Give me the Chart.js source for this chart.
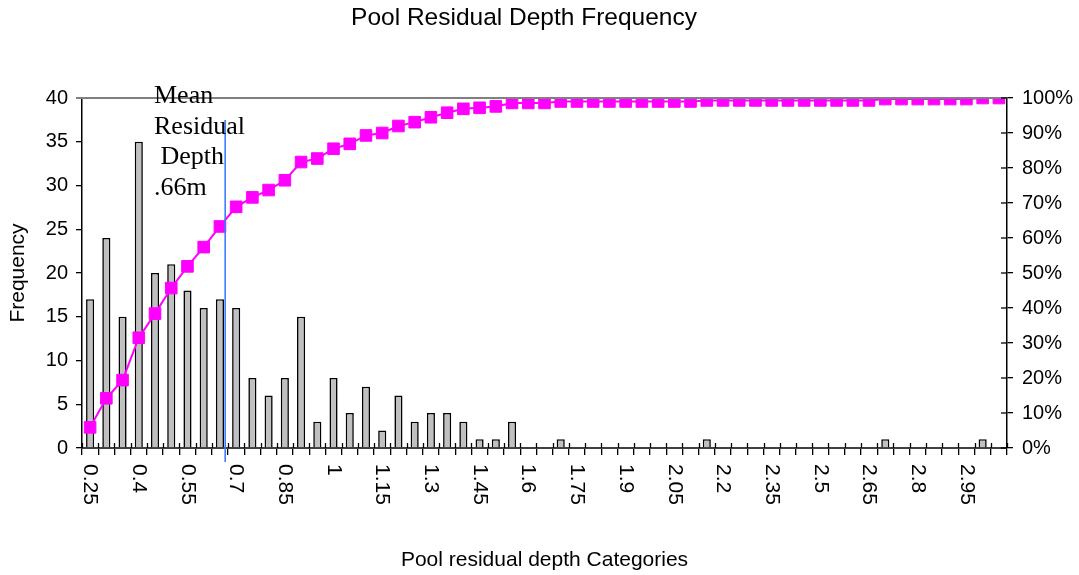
<!DOCTYPE html>
<html><head><meta charset="utf-8">
<script src="https://cdn.jsdelivr.net/npm/chart.js@4/dist/chart.umd.min.js"></script>
<style>html,body{margin:0;padding:0;background:#fff;}</style>
</head><body>
<canvas id="c" width="1079" height="575"></canvas>
<script>
// ---- data ----
const categories = ['0.25','0.3','0.35','0.4','0.45','0.5','0.55','0.6','0.65','0.7',
  '0.75','0.8','0.85','0.9','0.95','1','1.05','1.1','1.15','1.2',
  '1.25','1.3','1.35','1.4','1.45','1.5','1.55','1.6','1.65','1.7',
  '1.75','1.8','1.85','1.9','1.95','2','2.05','2.1','2.15','2.2',
  '2.25','2.3','2.35','2.4','2.45','2.5','2.55','2.6','2.65','2.7',
  '2.75','2.8','2.85','2.9','2.95','3','More'];
const frequency = [17,24,15,35,20,21,18,16,17,16,
  8,6,8,15,3,8,4,7,2,6,
  3,4,4,3,1,1,3,0,0,1,
  0,0,0,0,0,0,0,0,1,0,
  0,0,0,0,0,0,0,0,0,1,
  0,0,0,0,0,1,0];
const cumulativePercent = [5.9,14.2,19.4,31.5,38.4,45.7,51.9,57.4,63.3,68.9,
  71.6,73.7,76.5,81.7,82.7,85.5,86.9,89.3,90.0,92.0,
  93.1,94.5,95.8,96.9,97.2,97.6,98.6,98.6,98.6,99.0,
  99.0,99.0,99.0,99.0,99.0,99.0,99.0,99.0,99.3,99.3,
  99.3,99.3,99.3,99.3,99.3,99.3,99.3,99.3,99.3,99.7,
  99.7,99.7,99.7,99.7,99.7,100,100];
const frequencyAxis = {min: 0, max: 40, step: 5};
const percentAxis = {min: 0, max: 100, step: 10};
const xLabelEvery = 3;
const meanDepth = 0.66;
const meanNote = ['Mean', 'Residual', ' Depth', '.66m'];
const titleText = 'Pool Residual Depth Frequency';
const xTitle = 'Pool residual depth Categories';
const yTitle = 'Frequency';

const SANS = "'Liberation Sans', Arial, sans-serif";
Chart.defaults.font.family = SANS;
Chart.defaults.color = '#000';

const decor = {
  id: 'decor',
  afterDatasetsDraw(chart) {
    const {ctx, chartArea: a, scales: {x, y1}} = chart;
    const line = (x0, y0, x1, y1_) => { ctx.beginPath(); ctx.moveTo(x0, y0); ctx.lineTo(x1, y1_); ctx.stroke(); };
    ctx.save();
    // top border of plot area
    ctx.strokeStyle = '#808080'; ctx.lineWidth = 2;
    line(a.left - 6, a.top, a.right, a.top);
    // inner halves of x ticks (category boundaries)
    const w = x.getPixelForValue(1) - x.getPixelForValue(0);
    ctx.strokeStyle = '#000'; ctx.lineWidth = 1.3;
    for (let i = 0; i <= categories.length; i++) {
      const px = Math.round(x.getPixelForValue(0) - w / 2 + i * w) + 0.5;
      line(px, a.bottom - 5, px, a.bottom);
    }
    // inner halves of right-axis ticks
    y1.ticks.forEach(t => { const py = y1.getPixelForValue(t.value); line(a.right - 6, py, a.right, py); });
    // mean line
    const c0 = parseFloat(categories[0]), bw = parseFloat(categories[1]) - c0;
    const idx = (meanDepth - c0) / bw;
    const mx = x.getPixelForValue(Math.floor(idx)) + (idx - Math.floor(idx)) * w + 2;
    ctx.strokeStyle = '#3f7bff'; ctx.lineWidth = 1.6;
    line(mx, a.top + 22, mx, a.bottom + 14);
    // mean note
    ctx.fillStyle = '#000';
    ctx.font = "26px 'Liberation Serif', 'Times New Roman', serif";
    ctx.textAlign = 'left'; ctx.textBaseline = 'alphabetic';
    meanNote.forEach((t, k) => ctx.fillText(t, a.left + 72, a.top + 5 + k * 30.7));
    // x category labels, rotated clockwise
    ctx.font = '21px ' + SANS;
    ctx.textBaseline = 'middle';
    categories.forEach((c, i) => {
      if (i % xLabelEvery !== 0) return;
      ctx.save();
      ctx.translate(x.getPixelForValue(i), a.bottom + 16);
      ctx.rotate(Math.PI / 2);
      ctx.fillText(c, 0, 0);
      ctx.restore();
    });
    ctx.restore();
  }
};

new Chart(document.getElementById('c'), {
  data: {
    labels: categories,
    datasets: [
      {
        type: 'line', label: 'Cumulative %', data: cumulativePercent, yAxisID: 'y1',
        borderColor: '#ff00ff', borderWidth: 2, backgroundColor: '#ff00ff',
        pointStyle: 'rect', pointRadius: 8.2, pointBackgroundColor: '#ff00ff',
        pointBorderColor: '#ff00ff', pointBorderWidth: 1, tension: 0
      },
      {
        type: 'bar', label: 'Frequency', data: frequency, yAxisID: 'y',
        backgroundColor: '#c0c0c0', borderColor: '#000', borderWidth: 1.6,
        barPercentage: 0.5, categoryPercentage: 1
      }
    ]
  },
  options: {
    responsive: false, animation: false,
    layout: {padding: {left: -31, right: 0, top: 0, bottom: 0}},
    plugins: {
      legend: {display: false}, tooltip: {enabled: false},
      title: {display: true, text: titleText, font: {size: 24.5, weight: 'normal'}, color: '#000',
              padding: {top: 3.3, bottom: 65.3}}
    },
    scales: {
      x: {
        type: 'category', offset: true,
        ticks: {display: false},
        grid: {display: true, drawOnChartArea: false, drawTicks: true, tickLength: 7, offset: true, color: '#000', lineWidth: 1.3},
        border: {display: true, color: '#404040', width: 2},
        title: {display: true, text: xTitle, font: {size: 21}, color: '#000', padding: {top: 0, bottom: 2.4}},
        afterFit(s) { s.height = 127; }
      },
      y: {
        position: 'left', min: frequencyAxis.min, max: frequencyAxis.max,
        ticks: {stepSize: frequencyAxis.step, font: {size: 20}, color: '#000', padding: 8},
        grid: {display: true, drawOnChartArea: false, drawTicks: true, tickLength: 6, color: '#000', lineWidth: 1.3},
        border: {display: true, color: '#000', width: 1.5},
        title: {display: true, text: yTitle, font: {size: 21}, color: '#000', padding: {top: 36.4, bottom: 0}},
        afterFit(s) { s.width = 113; }
      },
      y1: {
        position: 'right', min: percentAxis.min, max: percentAxis.max,
        ticks: {stepSize: percentAxis.step, font: {size: 20}, color: '#000', padding: 9, callback: v => v + '%'},
        grid: {display: true, drawOnChartArea: false, drawTicks: true, tickLength: 6, color: '#000', lineWidth: 1.3},
        border: {display: true, color: '#000', width: 1.5},
        afterFit(s) { s.width = 72; }
      }
    }
  },
  plugins: [decor]
});
</script>
</body></html>
